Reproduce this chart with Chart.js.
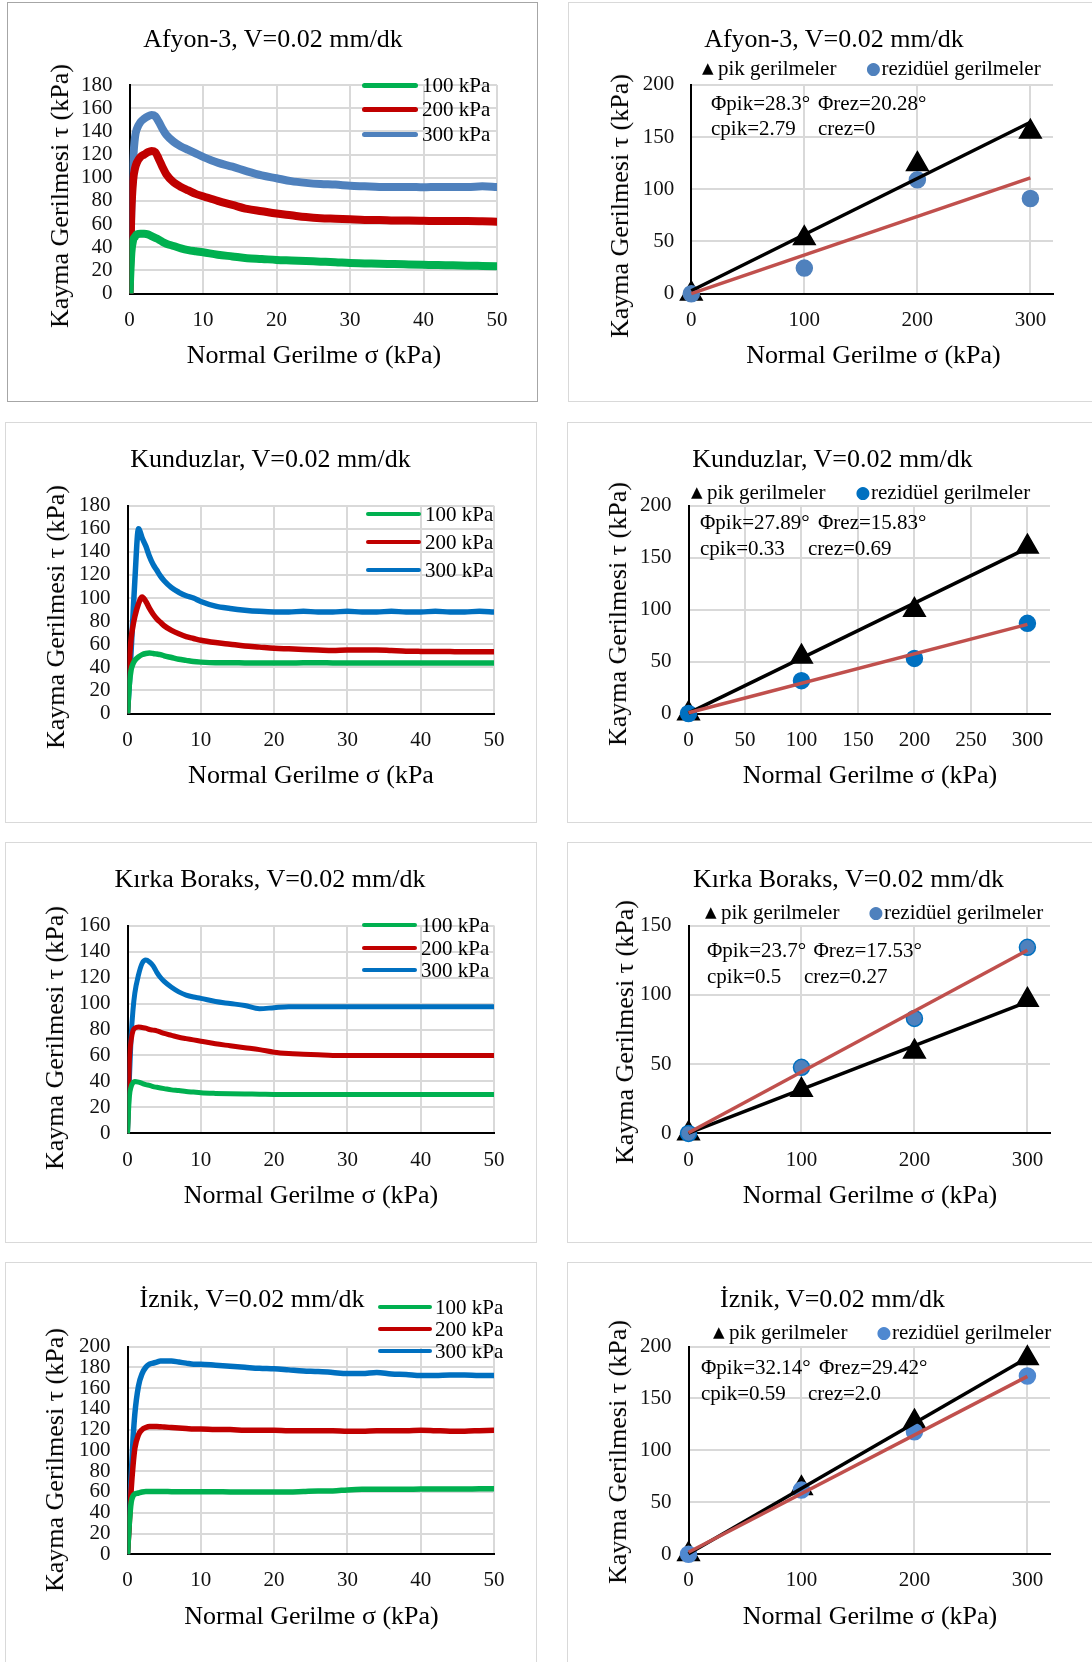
<!DOCTYPE html>
<html>
<head>
<meta charset="utf-8">
<script src="https://cdn.jsdelivr.net/npm/chart.js@4.4.0/dist/chart.umd.min.js"></script>
<style>
  body { margin: 0; width: 1092px; height: 1662px; position: relative; overflow: hidden; background: #fff;
         font-family: "Liberation Serif", "Times New Roman", serif; color: #000; }
  .panel { position: absolute; box-sizing: border-box; border: 1.5px solid #d9d9d9; }
  canvas { position: absolute; }
  .txt { position: absolute; white-space: pre; line-height: 1; }
  .sym { font-family: "DejaVu Sans", sans-serif; }
  .lg { position: absolute; height: 5px; border-radius: 3px; }
</style>
</head>
<body>
<script>
// shear displacement values used for all four stress-strain curves
const strain = [0, 0.25, 0.5, 0.75, 1, 1.5, 2, 2.5, 3, 3.5, 4, 4.5, 5, 6, 7, 8, 9, 10, 12, 14,
  16, 18, 20, 22, 24, 26, 28, 30, 32, 34, 36, 38, 40, 42, 44, 46, 48, 50];

// Afyon-3
const afyon100 = [0, 35, 46, 49, 51, 51.5, 51.5, 51, 49.5, 48, 46.5, 44.5, 43, 41, 39, 37.5, 36.5, 35.6, 33.5, 32,
  30.5, 29.8, 29, 28.5, 28, 27.5, 27, 26.3, 26, 25.6, 25.4, 25.1, 24.8, 24.5, 24.3, 24, 23.8, 23.6];
const afyon200 = [0, 70, 98, 108, 113, 118, 120, 122, 123, 122, 116, 109, 103, 96, 92, 89, 86, 84, 80, 76.5,
  73, 71, 69, 67.5, 66, 65, 64.5, 64, 63.5, 63.5, 63, 63, 62.8, 62.5, 62.5, 62.5, 62.3, 62];
const afyon300 = [0, 75, 115, 135, 142, 148, 151, 153, 154, 153, 148, 142, 137, 131, 127, 124, 121, 118, 113, 109.5,
  105.5, 102, 99.5, 97, 95.5, 94.5, 94, 93, 92.5, 92, 92, 92, 91.7, 92, 92, 92, 92.5, 92];

// Kunduzlar
const kunduzlar100 = [0, 25, 38, 43, 46, 49, 51, 52, 52.3, 52, 51.5, 51, 50, 48.5, 47, 46, 45, 44.5, 44, 44,
  43.8, 43.7, 43.7, 43.7, 44, 44, 43.8, 43.7, 43.7, 43.7, 43.7, 43.7, 43.7, 43.7, 43.7, 43.7, 43.7, 43.7];
const kunduzlar200 = [0, 45, 65, 76, 84, 95, 101, 97, 91, 86, 82, 79, 76, 72, 69, 66.5, 65, 63.5, 61.5, 60,
  58.5, 57.5, 56.5, 56, 55.5, 55, 54.5, 55, 55, 55, 54.5, 54, 53.8, 53.7, 53.6, 53.5, 53.5, 53.5];
const kunduzlar300 = [0, 25, 55, 85, 115, 160, 152, 145, 136, 129, 124, 119, 115, 109, 105, 102, 100, 97, 93, 91,
  89.5, 88.5, 88, 88, 88.5, 88, 88, 88.5, 88, 88, 88.5, 88, 88, 88.5, 88, 88, 88.5, 88];

// Kırka Boraks
const kirka100 = [0, 28, 36, 39, 40, 39.5, 38.5, 37.5, 37, 36, 35.5, 35, 34.5, 33.5, 33, 32.3, 31.8, 31.3, 30.8, 30.5,
  30.3, 30.2, 30, 30, 30, 30, 30, 30, 30, 30, 30, 30, 30, 30, 30, 30, 30, 30];
const kirka200 = [0, 55, 72, 79, 81, 82, 81.5, 81, 80, 79.5, 79, 78, 77, 75.5, 74, 73, 72, 71, 69, 67.5,
  66, 64.5, 62.5, 61.5, 61, 60.5, 60, 60, 60, 60, 60, 60, 60, 60, 60, 60, 60, 60];
const kirka300 = [0, 40, 75, 95, 108, 122, 131, 133.5, 132, 129, 124, 120, 117, 112.5, 109, 106.5, 105, 104, 101.5, 100,
  98.5, 96, 96.8, 97.5, 97.5, 97.5, 97.5, 97.5, 97.5, 97.5, 97.5, 97.5, 97.5, 97.5, 97.5, 97.5, 97.5, 97.5];

// İznik
const iznik100 = [0, 30, 50, 56, 58, 59, 60, 60.5, 60.5, 60.5, 60.5, 60.5, 60.5, 60.3, 60.3, 60.3, 60.3, 60.3, 60.3, 60,
  60, 60, 60, 60, 60.5, 61, 61, 62, 62.5, 62.5, 62.5, 62.5, 62.8, 62.8, 62.8, 62.8, 63, 63];
const iznik200 = [0, 30, 62, 85, 102, 115, 120, 122, 123, 123, 123, 122.8, 122.5, 122, 121.5, 121, 120.5, 120.5, 120, 120,
  119.5, 119.5, 119.5, 119, 119, 119, 119, 118.5, 118.5, 119, 119, 119, 119.5, 119, 118.5, 118.5, 119, 119.5];
const iznik300 = [0, 35, 75, 110, 135, 162, 174, 180, 183, 184, 185, 186, 186, 186, 185, 184, 183, 183, 182, 181,
  180, 179, 178.5, 177.5, 176.5, 176, 175, 174, 174, 175, 173.5, 173, 172, 172, 172.5, 172.5, 172, 172];

// peak / residual envelopes
const normalStress = [0, 100, 200, 300];
const afyonPik = [0, 53, 124, 155];
const afyonRez = [0, 24.5, 109, 91.2];
const kunduzlarPik = [0, 54.7, 99.6, 160.5];
const kunduzlarRez = [0, 31.6, 53, 86.8];
const kirkaPik = [0, 31.3, 59, 96.3];
const kirkaRez = [0, 47.7, 83, 134.3];
const iznikPik = [0, 63.5, 127.6, 188.6];
const iznikRez = [0, 61.9, 118, 171.6];

// fitted failure lines (values at 0 and 300 kPa)
const fitStress = [0, 300];
const afyonPikFit = [2.79, 164.2];
const afyonRezFit = [0, 110.9];
const kunduzlarPikFit = [0.33, 159.1];
const kunduzlarRezFit = [0.69, 85.8];
const kirkaPikFit = [0.27, 95];
const kirkaRezFit = [0.5, 132.2];
const iznikPikFit = [0.59, 189.1];
const iznikRezFit = [2.0, 171.2];

const GREEN = "#00b050", RED = "#c00000", BLUE = "#0070c0", STEEL = "#4f81bd", FITRED = "#c0504d";
const FONT = "Liberation Serif";

function curve(ys, color, w) {
  return {
    data: strain.map((x, i) => ({ x, y: ys[i] })),
    showLine: true, borderColor: color, backgroundColor: color, borderWidth: w,
    pointRadius: 0, cubicInterpolationMode: "monotone",
    borderJoinStyle: "round", borderCapStyle: "round"
  };
}

function points(ys, style, r, fill, stroke) {
  return {
    data: normalStress.map((x, i) => ({ x, y: ys[i] })),
    showLine: false, pointStyle: style, pointRadius: r,
    backgroundColor: fill, borderColor: stroke || fill, borderWidth: 1.5, clip: false
  };
}

function fit(ys, color) {
  return {
    data: fitStress.map((x, i) => ({ x, y: ys[i] })),
    showLine: true, borderColor: color, borderWidth: 3.5, pointRadius: 0, clip: false
  };
}

function text(s, x, y, size, mode, cls) {
  const d = document.createElement("div");
  d.className = "txt" + (cls ? " " + cls : "");
  d.textContent = s;
  d.style.left = x + "px";
  d.style.top = y + "px";
  d.style.fontSize = size + "px";
  if (mode === "c") d.style.transform = "translate(-50%,-50%)";
  else if (mode === "v") d.style.transform = "translate(-50%,-50%) rotate(-90deg)";
  else d.style.transform = "translate(0,-50%)";
  document.body.appendChild(d);
  return d;
}

function panelBox(b, color) {
  const d = document.createElement("div");
  d.className = "panel";
  d.style.cssText = `left:${b[0]}px;top:${b[1]}px;width:${b[2]}px;height:${b[3]}px` +
    (color ? `;border-color:${color}` : "");
  document.body.appendChild(d);
}

function makeChart(p) {
  const [bx, by, bw, bh] = p.box;
  const w = Math.min(bw, 1092 - bx);
  const c = document.createElement("canvas");
  c.width = w; c.height = bh;
  c.style.cssText = `left:${bx}px;top:${by}px;width:${w}px;height:${bh}px`;
  document.body.appendChild(c);
  const [L, T, R, B] = p.plot;
  const xH = 40;
  const tickFont = { family: FONT, size: 21 };
  new Chart(c, {
    type: "scatter",
    data: { datasets: p.datasets },
    options: {
      responsive: false, animation: false, events: [],
      layout: { padding: { left: 0, top: T - by, right: bx + w - R, bottom: by + bh - B - xH } },
      plugins: { legend: { display: false }, tooltip: { enabled: false } },
      scales: {
        x: {
          type: "linear", min: 0, max: p.xMax,
          ticks: { stepSize: p.xStep, includeBounds: false, autoSkip: false, padding: 14, font: tickFont, color: "#111", maxRotation: 0 },
          grid: { color: "#d9d9d9", lineWidth: 2, drawTicks: false },
          border: { color: "#000", width: 2 },
          afterFit: s => { s.height = xH; }
        },
        y: {
          type: "linear", min: 0, max: p.yMax,
          ticks: { stepSize: p.yStep, autoSkip: false, padding: 17, font: tickFont, color: "#111" },
          grid: { color: "#d9d9d9", lineWidth: 2, drawTicks: false },
          border: { color: "#000", width: 2 },
          afterFit: s => { s.width = L - bx; }
        }
      }
    }
  });
}

const XT = "Normal Gerilme σ (kPa)";
const YT = "Kayma Gerilmesi τ (kPa)";

// left column: stress-strain curves
const leftCharts = [
  { box: [7, 2, 531, 400], border: "#a6a6a6", plot: [129.5, 85, 497, 293.5], yMax: 180, yStep: 20,
    title: ["Afyon-3, V=0.02 mm/dk", 273, 39], xt: [XT, 314, 355], yt: [59.5, 196],
    series: [afyon100, afyon200, afyon300], colors: [GREEN, RED, STEEL], lw: 8,
    legend: { x1: 362, x2: 418, tx: 422, ys: [85, 109, 134], h: 5 } },
  { box: [5, 422, 532, 401], plot: [127.5, 505.7, 494, 713.5], yMax: 180, yStep: 20,
    title: ["Kunduzlar, V=0.02 mm/dk", 270.5, 458.5], xt: ["Normal Gerilme σ (kPa", 311, 775], yt: [56, 617],
    series: [kunduzlar100, kunduzlar200, kunduzlar300], colors: [GREEN, RED, BLUE], lw: 5.5,
    legend: { x1: 366, x2: 421, tx: 425, ys: [514, 542, 569.5], h: 4 } },
  { box: [5, 842, 532, 401], plot: [127.5, 925.6, 494, 1133.4], yMax: 160, yStep: 20,
    title: ["Kırka Boraks, V=0.02 mm/dk", 270, 878.5], xt: [XT, 311, 1195], yt: [55, 1038],
    series: [kirka100, kirka200, kirka300], colors: [GREEN, RED, BLUE], lw: 5,
    legend: { x1: 362, x2: 417, tx: 421, ys: [924.5, 947.5, 970], h: 4 } },
  { box: [5, 1262, 532, 410], plot: [127.5, 1346.5, 494, 1554.3], yMax: 200, yStep: 20,
    title: ["İznik, V=0.02 mm/dk", 252, 1299], xt: [XT, 311.5, 1616], yt: [55, 1460],
    series: [iznik100, iznik200, iznik300], colors: [GREEN, RED, BLUE], lw: 5.5,
    legend: { x1: 378, x2: 432, tx: 435, ys: [1307, 1329, 1351], h: 4 } }
];
const legendNames = ["100 kPa", "200 kPa", "300 kPa"];

leftCharts.forEach(p => {
  panelBox(p.box, p.border);
  makeChart({
    box: p.box, plot: p.plot, xMax: 50, xStep: 10, yMax: p.yMax, yStep: p.yStep,
    datasets: p.series.map((ys, i) => curve(ys, p.colors[i], p.lw))
  });
  text(p.title[0], p.title[1], p.title[2], 26, "c");
  text(p.xt[0], p.xt[1], p.xt[2], 26, "c");
  text(YT, p.yt[0], p.yt[1], 26, "v");
  p.legend.ys.forEach((y, i) => {
    const l = document.createElement("div");
    l.className = "lg";
    l.style.cssText = `left:${p.legend.x1}px;top:${y - p.legend.h / 2}px;width:${p.legend.x2 - p.legend.x1}px;height:${p.legend.h}px;background:${p.colors[i]}`;
    document.body.appendChild(l);
    text(legendNames[i], p.legend.tx, y, 21, "l");
  });
});

// right column: failure envelopes
const rightCharts = [
  { box: [568, 2, 530, 400], plot: [691.3, 84.8, 1053, 293.7], yMax: 200, yStep: 50, xStep: 100,
    title: ["Afyon-3, V=0.02 mm/dk", 834, 39], xt: [873.5, 355], yt: [619.5, 206],
    pik: afyonPik, rez: afyonRez, pikFit: afyonPikFit, rezFit: afyonRezFit, dot: STEEL,
    leg: [702, 866, 68.3],
    ann: [["Φpik=28.3°", 711, 103.3], ["Φrez=20.28°", 818, 103.3], ["cpik=2.79", 711, 128.3], ["crez=0", 818, 128.3]] },
  { box: [567, 422, 530, 401], plot: [688.5, 505.7, 1050, 713.5], yMax: 200, yStep: 50, xStep: 50,
    title: ["Kunduzlar, V=0.02 mm/dk", 832.5, 458.5], xt: [870, 775], yt: [617.5, 614],
    pik: kunduzlarPik, rez: kunduzlarRez, pikFit: kunduzlarPikFit, rezFit: kunduzlarRezFit, dot: BLUE,
    leg: [691, 855.5, 491.7],
    ann: [["Φpik=27.89°", 700, 522.3], ["Φrez=15.83°", 818, 522.3], ["cpik=0.33", 700, 548.3], ["crez=0.69", 808, 548.3]] },
  { box: [567, 842, 530, 401], plot: [688.5, 925.6, 1050, 1133.4], yMax: 150, yStep: 50, xStep: 100,
    title: ["Kırka Boraks, V=0.02 mm/dk", 848.5, 878.5], xt: [870, 1195], yt: [624.5, 1032],
    pik: kirkaPik, rez: kirkaRez, pikFit: kirkaPikFit, rezFit: kirkaRezFit, dot: STEEL, dotLine: BLUE,
    leg: [705, 868.5, 911.7],
    ann: [["Φpik=23.7°", 707, 950], ["Φrez=17.53°", 813.5, 950], ["cpik=0.5", 707, 975.7], ["crez=0.27", 804, 975.7]] },
  { box: [567, 1262, 530, 410], plot: [688.5, 1346.5, 1050, 1554.3], yMax: 200, yStep: 50, xStep: 100,
    title: ["İznik, V=0.02 mm/dk", 832.5, 1299], xt: [870, 1616], yt: [617.5, 1452],
    pik: iznikPik, rez: iznikRez, pikFit: iznikPikFit, rezFit: iznikRezFit, dot: "#4f88d0",
    leg: [713, 876.5, 1331.7],
    ann: [["Φpik=32.14°", 701, 1366.7], ["Φrez=29.42°", 819, 1366.7], ["cpik=0.59", 701, 1392.7], ["crez=2.0", 808, 1392.7]] }
];

rightCharts.forEach(p => {
  panelBox(p.box);
  makeChart({
    box: p.box, plot: p.plot, xMax: 320, xStep: p.xStep, yMax: p.yMax, yStep: p.yStep,
    datasets: [
      fit(p.rezFit, FITRED),
      fit(p.pikFit, "#000"),
      points(p.rez, "circle", 8, p.dot, p.dotLine),
      points(p.pik, "triangle", 12.5, "#000")
    ]
  });
  text(p.title[0], p.title[1], p.title[2], 26, "c");
  text(XT, p.xt[0], p.xt[1], 26, "c");
  text(YT, p.yt[0], p.yt[1], 26, "v");
  text("▲", p.leg[0], p.leg[2], 15, "l", "sym");
  text("pik gerilmeler", p.leg[0] + 16, p.leg[2], 21, "l");
  const d = text("●", p.leg[1], p.leg[2], 17, "l", "sym");
  d.style.color = p.dot;
  text("rezidüel gerilmeler", p.leg[1] + 15.5, p.leg[2], 21, "l");
  p.ann.forEach(a => text(a[0], a[1], a[2], 21, "l"));
});
</script>
</body>
</html>
